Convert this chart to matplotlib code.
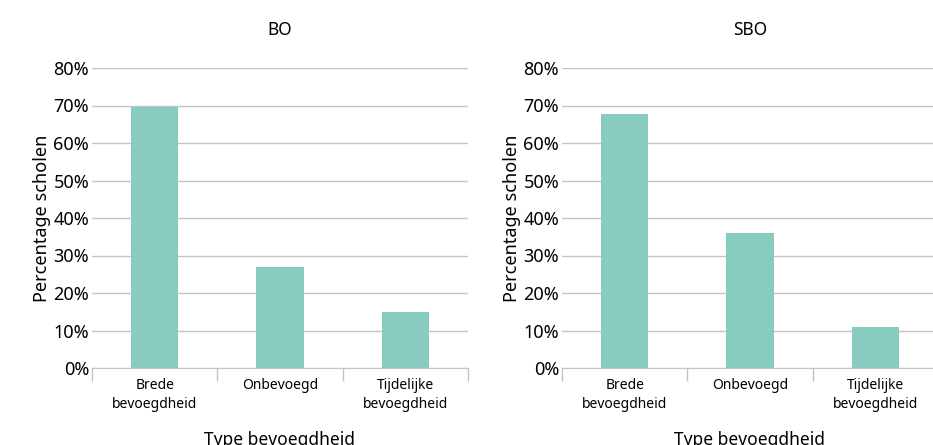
import matplotlib.pyplot as plt
from matplotlib.ticker import PercentFormatter

plt.rcParams['font.family'] = ['Noto Sans', 'DejaVu Sans']

categories = ["Brede\nbevoegdheid", "Onbevoegd", "Tijdelijke\nbevoegdheid"]
bo_values = [69.6, 27.0, 15.0]
sbo_values = [67.7, 36.0, 10.9]
titles = ["BO", "SBO"]

bar_color = "#88cbbf"
grid_color = "#c4c4c4"

fig = plt.figure(figsize=(9.33, 4.45), dpi=100)
ax1 = fig.add_axes([92 / 933, 1 - 368 / 445, 376 / 933, 300 / 445])
ax2 = fig.add_axes([562 / 933, 1 - 368 / 445, 376 / 933, 300 / 445])

for ax, vals, title in zip([ax1, ax2], [bo_values, sbo_values], titles):
    x = range(len(categories))
    ax.bar(x, vals, width=0.38, color=bar_color, zorder=3)
    ax.set_xlim(-0.5, 2.5)
    ax.set_ylim(0, 80)
    ax.set_yticks(range(0, 81, 10))
    ax.yaxis.set_major_formatter(PercentFormatter(decimals=0))
    ax.grid(axis='y', color=grid_color, linewidth=1, zorder=0)
    ax.set_xticks(list(x))
    ax.set_xticklabels(categories, fontsize=10, linespacing=1.35)
    ax.set_xticks([-0.5, 0.5, 1.5, 2.5], minor=True)
    ax.tick_params(axis='x', which='major', length=0, pad=7)
    ax.tick_params(axis='x', which='minor', length=9, color=grid_color, width=1)
    ax.tick_params(axis='y', length=0, labelsize=13, pad=2)
    for s in ['top', 'right', 'left']:
        ax.spines[s].set_visible(False)
    ax.spines['bottom'].set_color(grid_color)
    ax.set_title(title, fontsize=12.5, pad=24)
    ax.set_ylabel("Percentage scholen", fontsize=13, labelpad=2)
    ax.set_xlabel("Type bevoegdheid", fontsize=12.5, labelpad=14)

fig.savefig("out.png", dpi=100)
